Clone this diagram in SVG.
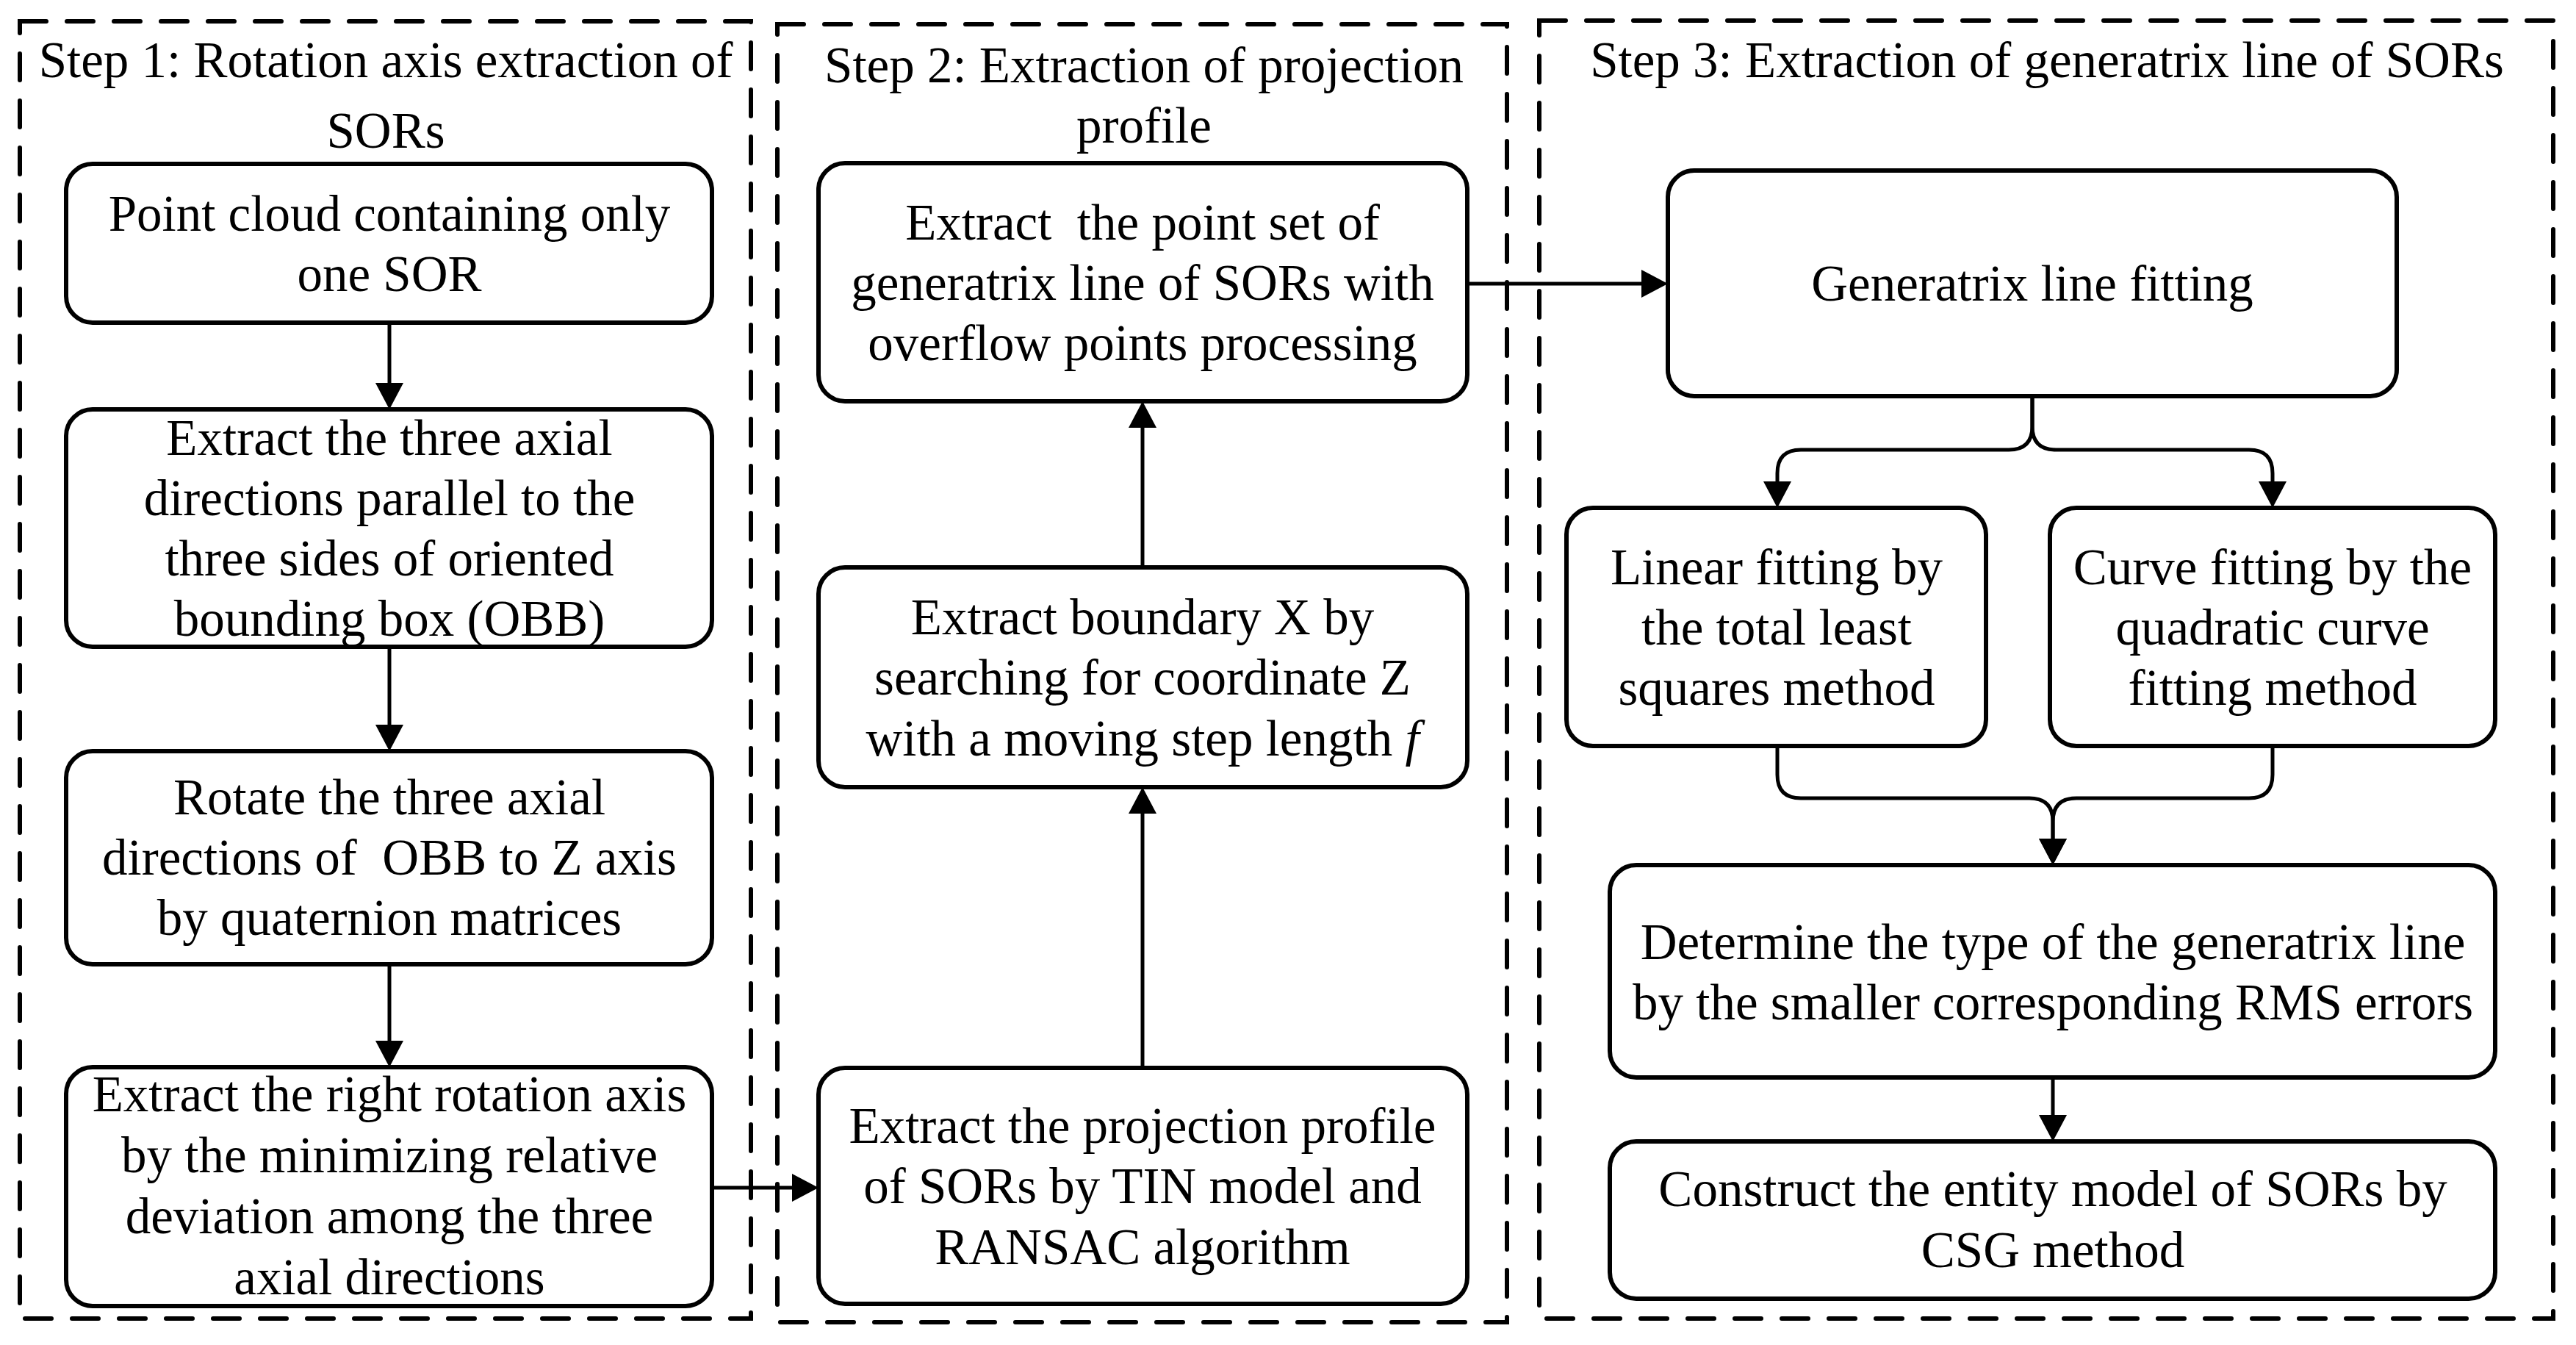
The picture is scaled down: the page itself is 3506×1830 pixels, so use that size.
<svg xmlns="http://www.w3.org/2000/svg" width="3506" height="1830" viewBox="0 0 3506 1830">
<style>
.bg{fill:#fff}
.step{fill:none;stroke:#000;stroke-width:6;stroke-dasharray:36 28;stroke-linecap:round}
.node rect{fill:#fff;stroke:#000;stroke-width:6}
text{font-family:"Liberation Serif","Times New Roman",serif;font-size:69px;fill:#000;text-anchor:middle}
.conn{fill:none;stroke:#000;stroke-width:5}
</style>
<defs>
<marker id="ah" viewBox="0 0 36 38" refX="0" refY="19" markerWidth="36" markerHeight="38" markerUnits="userSpaceOnUse" orient="auto">
<path d="M0,0 L36,19 L0,38 Z" fill="#000"/>
</marker>
</defs>
<rect class="bg" x="0" y="0" width="3506" height="1830"/>

<g id="step1">
<rect class="step" x="27" y="29" width="995" height="1765"/>
<text x="525" y="105">Step 1: Rotation axis extraction of</text>
<text x="525" y="201">SORs</text>
</g>
<g id="step2">
<rect class="step" x="1058" y="33" width="993" height="1766"/>
<text x="1557" y="112">Step 2: Extraction of projection</text>
<text x="1557" y="194">profile</text>
</g>
<g id="step3">
<rect class="step" x="2095" y="28" width="1380" height="1766"/>
<text x="2786" y="105">Step 3: Extraction of generatrix line of SORs</text>
</g>

<g id="n1" class="node">
<rect x="90" y="223" width="879" height="216" rx="36"/>
<text x="530" y="314">Point cloud containing only</text>
<text x="530" y="396">one SOR</text>
</g>
<g id="n2" class="node">
<rect x="90" y="557" width="879" height="323" rx="36"/>
<text x="530" y="619">Extract the three axial</text>
<text x="530" y="701">directions parallel to the</text>
<text x="530" y="783">three sides of oriented</text>
<text x="530" y="865">bounding box (OBB)</text>
</g>
<g id="n3" class="node">
<rect x="90" y="1022" width="879" height="290" rx="36"/>
<text x="530" y="1108">Rotate the three axial</text>
<text x="530" y="1190" xml:space="preserve">directions of  OBB to Z axis</text>
<text x="530" y="1272">by quaternion matrices</text>
</g>
<g id="n4" class="node">
<rect x="90" y="1452" width="879" height="325" rx="36"/>
<text x="530" y="1512">Extract the right rotation axis</text>
<text x="530" y="1595">by the minimizing relative</text>
<text x="530" y="1678">deviation among the three</text>
<text x="530" y="1761">axial directions</text>
</g>

<g id="n5" class="node">
<rect x="1114" y="222" width="883" height="324" rx="36"/>
<text x="1555" y="326" xml:space="preserve">Extract  the point set of</text>
<text x="1555" y="408">generatrix line of SORs with</text>
<text x="1555" y="490">overflow points processing</text>
</g>
<g id="n6" class="node">
<rect x="1114" y="772" width="883" height="299" rx="36"/>
<text x="1555" y="863">Extract boundary X by</text>
<text x="1555" y="945">searching for coordinate Z</text>
<text x="1555" y="1028">with a moving step length <tspan font-style="italic">f</tspan></text>
</g>
<g id="n7" class="node">
<rect x="1114" y="1453" width="883" height="321" rx="36"/>
<text x="1555" y="1555">Extract the projection profile</text>
<text x="1555" y="1637">of SORs by TIN model and</text>
<text x="1555" y="1720">RANSAC algorithm</text>
</g>

<g id="n8" class="node">
<rect x="2270" y="232" width="992" height="307" rx="36"/>
<text x="2766" y="409">Generatrix line fitting</text>
</g>
<g id="n9" class="node">
<rect x="2132" y="691" width="571" height="324" rx="36"/>
<text x="2418" y="795">Linear fitting by</text>
<text x="2418" y="877">the total least</text>
<text x="2418" y="959">squares method</text>
</g>
<g id="n10" class="node">
<rect x="2790" y="691" width="606" height="324" rx="36"/>
<text x="3093" y="795">Curve fitting by the</text>
<text x="3093" y="877">quadratic curve</text>
<text x="3093" y="959">fitting method</text>
</g>
<g id="n11" class="node">
<rect x="2191" y="1177" width="1205" height="289" rx="36"/>
<text x="2794" y="1305">Determine the type of the generatrix line</text>
<text x="2794" y="1387">by the smaller corresponding RMS errors</text>
</g>
<g id="n12" class="node">
<rect x="2191" y="1553" width="1205" height="214" rx="36"/>
<text x="2794" y="1641">Construct the entity model of SORs by</text>
<text x="2794" y="1724">CSG method</text>
</g>

<g id="connectors">
<path class="conn" d="M530,439 V521" marker-end="url(#ah)"/>
<path class="conn" d="M530,880 V986" marker-end="url(#ah)"/>
<path class="conn" d="M530,1312 V1416" marker-end="url(#ah)"/>
<path class="conn" d="M969,1616 H1078" marker-end="url(#ah)"/>
<path class="conn" d="M1555,1453 V1107" marker-end="url(#ah)"/>
<path class="conn" d="M1555,772 V582" marker-end="url(#ah)"/>
<path class="conn" d="M1997,386 H2234" marker-end="url(#ah)"/>
<path class="conn" d="M2766,539 V580 Q2766,612 2734,612 H2451 Q2419,612 2419,644 V655" marker-end="url(#ah)"/>
<path class="conn" d="M2766,539 V580 Q2766,612 2798,612 H3061 Q3093,612 3093,644 V655" marker-end="url(#ah)"/>
<path class="conn" d="M2419,1015 V1054 Q2419,1086 2451,1086 H2762 Q2794,1086 2794,1118 V1141" marker-end="url(#ah)"/>
<path class="conn" d="M3093,1015 V1054 Q3093,1086 3061,1086 H2826 Q2794,1086 2794,1118 V1141" marker-end="url(#ah)"/>
<path class="conn" d="M2794,1466 V1517" marker-end="url(#ah)"/>
</g>
</svg>
